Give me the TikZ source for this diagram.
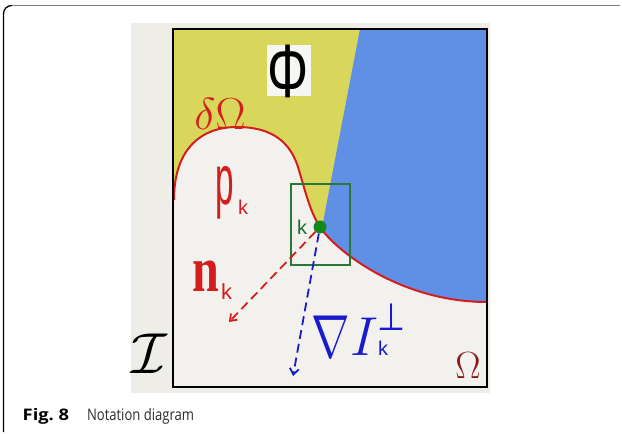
\documentclass[tikz,border=0pt]{standalone}
\usepackage{fix-cm}
\usepackage{amsmath,amssymb}
\usepackage[no-math]{fontspec}
\newfontfamily\capfont{Open Sans}
\newfontfamily\lsans{Liberation Sans}
\newfontfamily\lserif{Liberation Serif}
\newfontfamily\dvsans{DejaVu Sans}
\usetikzlibrary{arrows.meta}
\definecolor{framegray}{RGB}{125,125,125}
\definecolor{panel}{RGB}{238,237,232}
\definecolor{omegafill}{RGB}{242,241,237}
\definecolor{yel}{RGB}{216,215,92}
\definecolor{blu}{RGB}{96,143,230}
\definecolor{redc}{RGB}{212,30,30}
\definecolor{darkred}{RGB}{140,25,25}
\definecolor{grn}{RGB}{40,120,55}
\definecolor{dotgreen}{RGB}{20,135,30}
\definecolor{textgreen}{RGB}{30,105,45}
\definecolor{blutext}{RGB}{25,25,205}
\definecolor{phibox}{RGB}{246,246,243}
\definecolor{captext}{RGB}{45,45,45}
\newcommand\dOmegaPath{(174,200) .. controls (174,150) and (200,127) .. (237,127) .. controls (272,127) and (290,142) .. (298,167) .. controls (305,190) and (310,212) .. (320,227) .. controls (335,250) and (400,302) .. (487,302)}
\tikzset{
  lbl/.style={inner sep=0pt, outer sep=0pt},
  dasharrow/.style={line width=1.8bp, dash pattern=on 9bp off 5bp, -{Straight Barb[length=6bp,width=9bp]}},
}
\begin{document}
\begin{tikzpicture}[x=1bp,y=-1bp]
\useasboundingbox (0,0) rectangle (622,434);
\fill[white] (0,0) rectangle (622,434);
% outer frame
\draw[line width=1.3bp, black] (3.5,432) -- (3.5,14) .. controls (3.5,9) and (7,5.5) .. (12,5.5);
\draw[line width=1.3bp, framegray] (12,5.5) -- (620,5.5);
% panel
\fill[panel] (131,23) rectangle (490,393);
% regions
\fill[omegafill] (173,29) rectangle (487,387);
\fill[yel] (173,29) -- \dOmegaPath -- (487,29) -- cycle;
\begin{scope}
  \clip (173,29) -- \dOmegaPath -- (487,29) -- cycle;
  \fill[blu] (360,29) -- (289,400) -- (495,400) -- (495,29) -- cycle;
\end{scope}
\draw[redc, line width=2bp] \dOmegaPath;
% Phi
\fill[phibox] (267,45) rectangle (311,96);
\node[lbl, anchor=base] (phi) at (288.5,98) {\scalebox{0.68}[1]{\lsans\fontsize{76}{76}\selectfont Φ}};
% delta Omega
\node[lbl, anchor=base, text=redc] (dom) at (220,130) {\fontsize{45}{45}\selectfont$\delta\Omega$};
% p_k
\node[lbl, anchor=base west, text=redc] (p) at (215,205) {\scalebox{0.47}[1]{\lsans\fontsize{71}{71}\selectfont p}};
\node[lbl, anchor=base west, text=redc] (pk) at (238,215) {\lsans\fontsize{20}{20}\selectfont k};
% green box and point
\node[draw=grn, line width=1.6bp, minimum width=59bp, minimum height=81bp, inner sep=0pt] (box) at (320.5,224.5) {};
\node[lbl, anchor=base west, text=textgreen] (klbl) at (297,235) {\lsans\fontsize{20}{20}\selectfont k};
\node[circle, fill=dotgreen, inner sep=0pt, minimum size=13bp] (k) at (320,227) {};
% arrows
\coordinate (ntip) at (229,322);
\coordinate (gtip) at (293,376);
\draw[redc, dasharrow] (k) -- (ntip);
\draw[blutext, dasharrow] (k) -- (gtip);
% n_k
\node[lbl, anchor=base west, text=redc] (n) at (192,292) {\scalebox{0.78}[1.05]{\lserif\bfseries\fontsize{62}{62}\selectfont n}};
\node[lbl, anchor=base west, text=redc] (nk) at (221,300) {\lsans\fontsize{22}{22}\selectfont k};
% nabla I perp k
\node[lbl, anchor=base west, text=blutext] (nabla) at (311,357) {\scalebox{0.76}[1]{\fontsize{61}{61}\selectfont$\nabla$}};
\node[lbl, anchor=base west, text=blutext] (I) at (350,355) {\fontsize{55}{55}\selectfont$I$};
\node[lbl, anchor=base west, text=blutext] (perp) at (377,330) {\scalebox{0.85}[1]{\dvsans\fontsize{38}{38}\selectfont ⊥}};
\node[lbl, anchor=base west, text=blutext] (Ik) at (378,355) {\lsans\fontsize{20}{20}\selectfont k};
% script I
\node[lbl, anchor=base] (calI) at (149,373) {\fontsize{58}{58}\selectfont$\mathcal{I}$};
% Omega
\node[lbl, anchor=base, text=darkred] (om) at (468,378) {\fontsize{38}{38}\selectfont$\Omega$};
% frame
\draw[black, line width=2.5bp] (173,29) rectangle (487,387);
% caption
\node[lbl, anchor=base west] (fig) at (22.7,420.7) {\scalebox{1.15}[1]{\capfont\bfseries\fontsize{16}{16}\selectfont Fig.~8}};
\node[lbl, anchor=base west, text=captext] (cap) at (87,420.7) {\scalebox{0.82}[1]{\capfont\fontsize{16}{16}\selectfont Notation diagram}};
\end{tikzpicture}
\end{document}
